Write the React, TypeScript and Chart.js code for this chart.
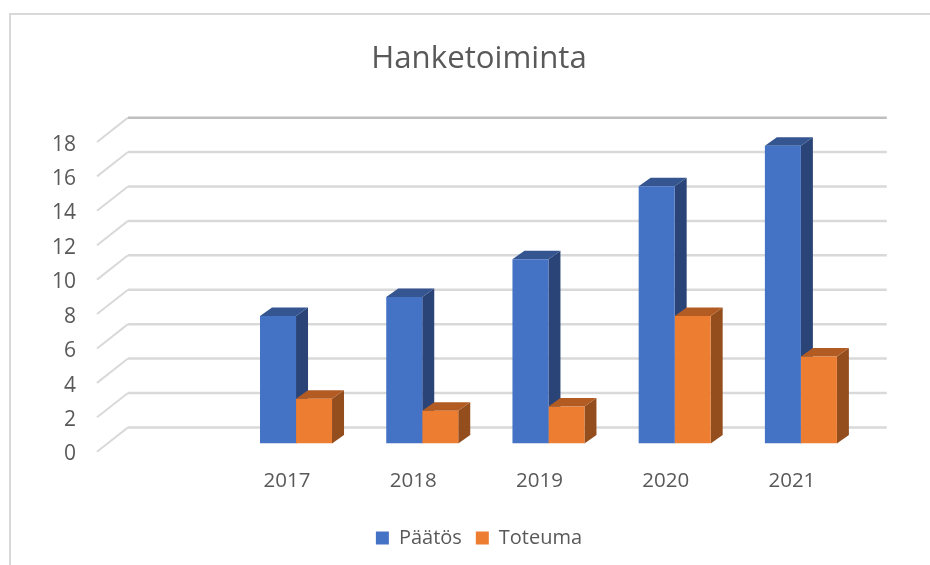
import React, { useEffect, useRef } from "react";
import { Chart, registerables } from "chart.js";

Chart.register(...registerables);

const chartTitle = "Hanketoiminta";
const categories = ["", "2017", "2018", "2019", "2020", "2021"];
const paatos = [null, 7.4, 8.5, 10.7, 14.95, 17.3];
const toteuma = [null, 2.6, 1.9, 2.15, 7.4, 5.05];
const seriesNames = ["Päätös", "Toteuma"];

const FONT = "'Open Sans', sans-serif";
const TEXT = "#595959";
const GRID = "#d9d9d9";
const frontColors = ["#4472c4", "#ed7d31"];
const topColors = ["#34558f", "#b25c24"];
const sideColors = ["#2a4478", "#944e1e"];

// 3D look: bar depth and the wall offset relative to the bars' front plane
const BAR_DX = 12;
const BAR_DY = 8.5;
const WALL_BACK = { dx: 21.3, dy: -16 };
const WALL_FRONT = { dx: -9.7, dy: 8.3 };

const depthPlugin = {
  id: "depth",
  beforeDatasetsDraw(chart: any) {
    const { ctx, scales } = chart;
    const y = scales.y;
    const x = scales.x;
    ctx.save();
    // walls: side rails and back gridlines
    y.ticks.forEach((t: any, i: number) => {
      const py = y.getPixelForValue(t.value);
      ctx.strokeStyle = GRID;
      ctx.lineWidth = 2;
      ctx.beginPath();
      ctx.moveTo(x.left + WALL_FRONT.dx, py + WALL_FRONT.dy);
      ctx.lineTo(x.left + WALL_BACK.dx, py + WALL_BACK.dy);
      ctx.stroke();
      ctx.strokeStyle = i === y.ticks.length - 1 ? "#bfbfbf" : GRID;
      ctx.lineWidth = 2.5;
      ctx.beginPath();
      ctx.moveTo(x.left + WALL_BACK.dx, py + WALL_BACK.dy);
      ctx.lineTo(x.right + WALL_BACK.dx + 1.5, py + WALL_BACK.dy);
      ctx.stroke();
    });
    // bar depth faces, first series first
    chart.data.datasets.forEach((ds: any, di: number) => {
      const meta = chart.getDatasetMeta(di);
      meta.data.forEach((bar: any, idx: number) => {
        if (ds.data[idx] == null) return;
        const { x: bx, y: by, base, width } = bar.getProps(["x", "y", "base", "width"]);
        const l = bx - width / 2;
        const r = bx + width / 2;
        ctx.fillStyle = sideColors[di];
        ctx.beginPath();
        ctx.moveTo(r, by);
        ctx.lineTo(r + BAR_DX, by - BAR_DY);
        ctx.lineTo(r + BAR_DX, base - BAR_DY);
        ctx.lineTo(r, base);
        ctx.closePath();
        ctx.fill();
        ctx.fillStyle = topColors[di];
        ctx.beginPath();
        ctx.moveTo(l, by);
        ctx.lineTo(l + BAR_DX, by - BAR_DY);
        ctx.lineTo(r + BAR_DX, by - BAR_DY);
        ctx.lineTo(r, by);
        ctx.closePath();
        ctx.fill();
      });
    });
    ctx.restore();
  },
};

export default function App() {
  const ref = useRef<HTMLCanvasElement>(null);
  useEffect(() => {
    const chart = new Chart(ref.current as HTMLCanvasElement, {
      type: "bar",
      data: {
        labels: categories,
        datasets: [
          { label: seriesNames[0], data: paatos, backgroundColor: frontColors[0], barPercentage: 1, categoryPercentage: 0.5705 },
          { label: seriesNames[1], data: toteuma, backgroundColor: frontColors[1], barPercentage: 1, categoryPercentage: 0.5705 },
        ],
      } as any,
      options: {
        animation: false,
        responsive: false,
        layout: { padding: { left: 28, right: 0, top: 0, bottom: 7 } },
        plugins: {
          tooltip: { enabled: false },
          title: {
            display: true,
            text: chartTitle,
            color: TEXT,
            font: { family: FONT, size: 31.2, weight: "normal" },
            padding: { top: 40, bottom: 56.2 },
          },
          legend: {
            position: "bottom",
            labels: {
              boxWidth: 13,
              boxHeight: 13,
              color: TEXT,
              font: { family: FONT, size: 20 },
              padding: 14,
            },
          },
        },
        scales: {
          x: {
            grid: { display: false },
            border: { display: false },
            ticks: { color: TEXT, font: { family: FONT, size: 20.5 }, labelOffset: -9, padding: 17.5, maxRotation: 0 },
            afterFit: (s: any) => { s.height = 70.6; },
          },
          y: {
            min: 0,
            max: 18,
            grid: { display: false },
            border: { display: false },
            ticks: { stepSize: 2, color: TEXT, font: { family: FONT, size: 21 }, labelOffset: 11, padding: 22.7 },
            afterFit: (s: any) => { s.width = 78.7; },
          },
          // empty axis that only reserves the room right of the plot
          yRight: {
            position: "right",
            grid: { display: false },
            border: { display: false },
            ticks: { display: false },
            afterFit: (s: any) => { s.width = 66; },
          },
        },
      } as any,
      plugins: [depthPlugin],
    });
    return () => chart.destroy();
  }, []);
  return (
    <div style={{ position: "fixed", left: 0, top: 0, width: 930, height: 565, background: "#fff", overflow: "hidden" }}>
      <div style={{ position: "absolute", left: 9, top: 13, right: 0, bottom: 0, borderLeft: `2px solid ${GRID}`, borderTop: `2px solid ${GRID}` }} />
      <canvas ref={ref} width={930} height={565} style={{ position: "absolute", left: 0, top: 0 }} />
    </div>
  );
}
